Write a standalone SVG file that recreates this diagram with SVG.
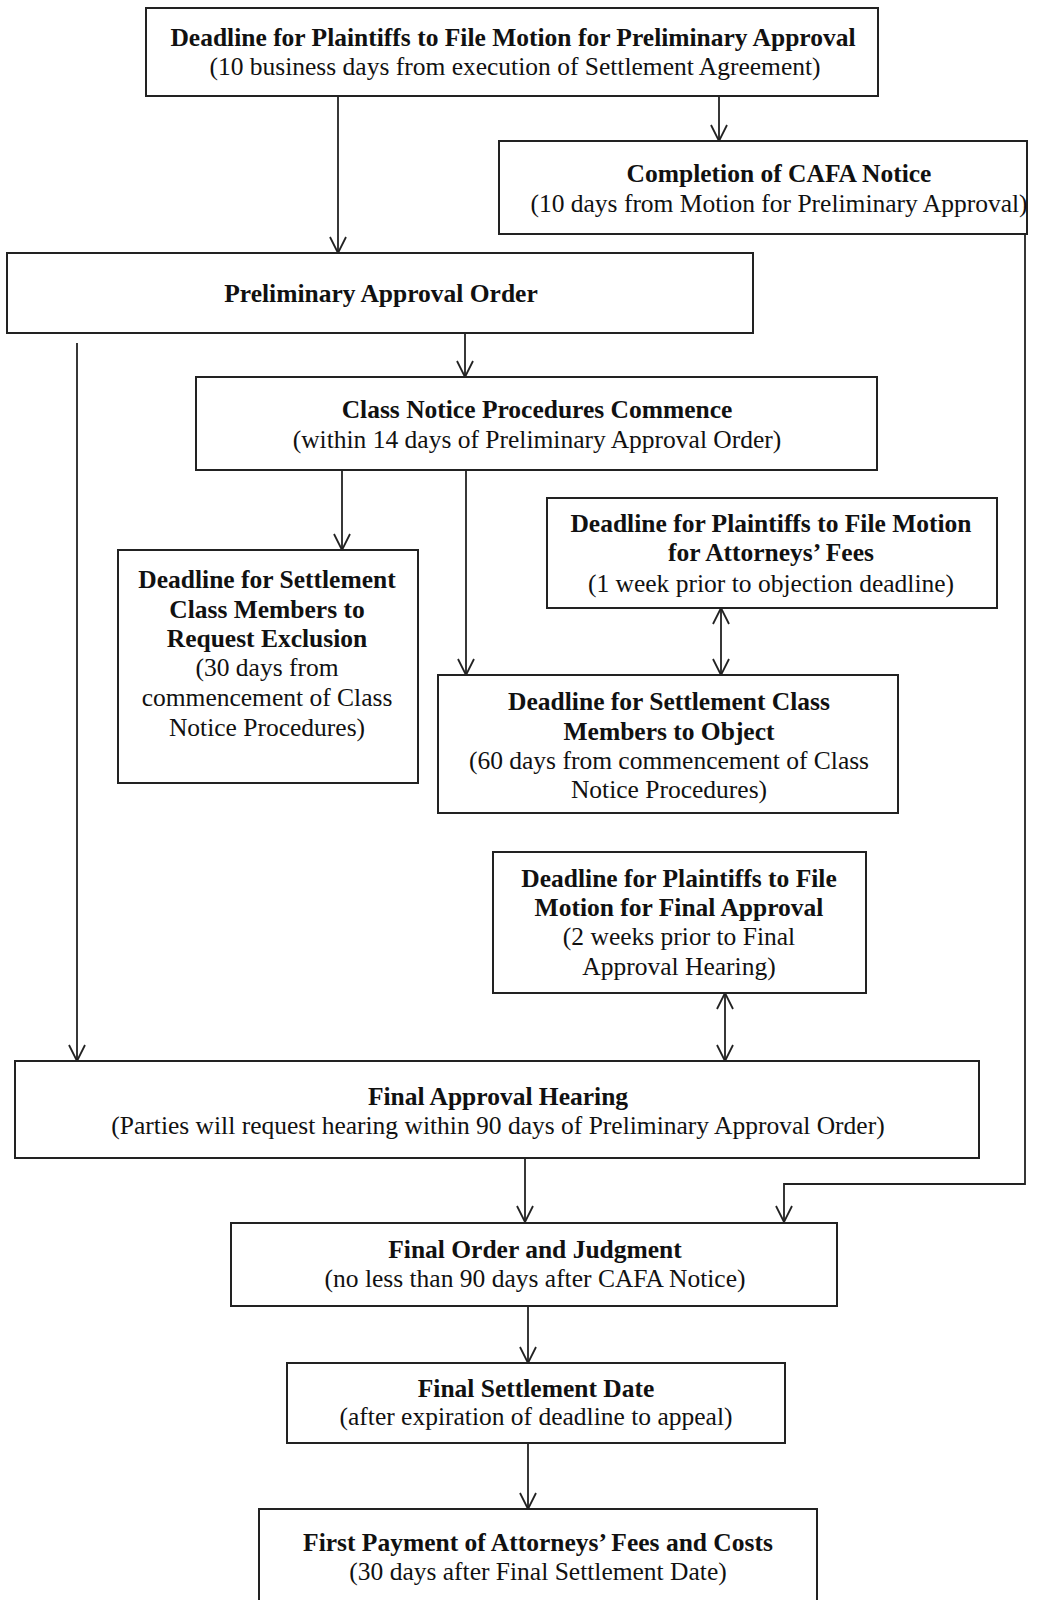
<svg xmlns="http://www.w3.org/2000/svg" width="1048" height="1600" viewBox="0 0 1048 1600">
<defs>
<style>
.box{fill:#fff;stroke:#222;stroke-width:2}
.t{font-family:"Liberation Serif","Times New Roman",serif;font-size:25.5px;fill:#111;text-anchor:middle}
.b{font-weight:bold}
.c{fill:none;stroke:#222;stroke-width:1.8}
</style>
<marker id="ah" viewBox="-18 -10 20 20" markerWidth="20" markerHeight="20" refX="0" refY="0" orient="auto-start-reverse" markerUnits="userSpaceOnUse">
<path d="M-16,-8 L0,0 L-16,8" fill="none" stroke="#222" stroke-width="1.8"/>
</marker>
</defs>
<rect width="1048" height="1600" fill="#fff"/>
<g id="connectors">
<path class="c" d="M338,96 V253" marker-end="url(#ah)"/>
<path class="c" d="M719,96 V141" marker-end="url(#ah)"/>
<path class="c" d="M1025,234 V1184 H784 V1222" marker-end="url(#ah)"/>
<path class="c" d="M77,343 V1061" marker-end="url(#ah)"/>
<path class="c" d="M465,333 V377" marker-end="url(#ah)"/>
<path class="c" d="M342,470 V550" marker-end="url(#ah)"/>
<path class="c" d="M466,470 V675" marker-end="url(#ah)"/>
<path class="c" d="M721,608 V675" marker-start="url(#ah)" marker-end="url(#ah)"/>
<path class="c" d="M725,993 V1061" marker-start="url(#ah)" marker-end="url(#ah)"/>
<path class="c" d="M525,1158 V1222" marker-end="url(#ah)"/>
<path class="c" d="M528,1306 V1363" marker-end="url(#ah)"/>
<path class="c" d="M528,1443 V1509" marker-end="url(#ah)"/>
</g>
<g id="n1"><rect class="box" x="146" y="8" width="732" height="88"/>
<text class="t b" x="513" y="46">Deadline for Plaintiffs to File Motion for Preliminary Approval</text>
<text class="t" x="515" y="75">(10 business days from execution of Settlement Agreement)</text></g>
<g id="n2"><rect class="box" x="499" y="141" width="528" height="93"/>
<text class="t b" x="779" y="182">Completion of CAFA Notice</text>
<text class="t" x="779" y="212">(10 days from Motion for Preliminary Approval)</text></g>
<g id="n3"><rect class="box" x="7" y="253" width="746" height="80"/>
<text class="t b" x="381" y="302">Preliminary Approval Order</text></g>
<g id="n4"><rect class="box" x="196" y="377" width="681" height="93"/>
<text class="t b" x="537" y="418">Class Notice Procedures Commence</text>
<text class="t" x="537" y="448">(within 14 days of Preliminary Approval Order)</text></g>
<g id="n5"><rect class="box" x="118" y="550" width="300" height="233"/>
<text class="t b" x="267" y="588">Deadline for Settlement</text>
<text class="t b" x="267" y="618">Class Members to</text>
<text class="t b" x="267" y="647">Request Exclusion</text>
<text class="t" x="267" y="676">(30 days from</text>
<text class="t" x="267" y="706">commencement of Class</text>
<text class="t" x="267" y="736">Notice Procedures)</text></g>
<g id="n6"><rect class="box" x="547" y="498" width="450" height="110"/>
<text class="t b" x="771" y="532">Deadline for Plaintiffs to File Motion</text>
<text class="t b" x="771" y="561">for Attorneys’ Fees</text>
<text class="t" x="771" y="592">(1 week prior to objection deadline)</text></g>
<g id="n7"><rect class="box" x="438" y="675" width="460" height="138"/>
<text class="t b" x="669" y="710">Deadline for Settlement Class</text>
<text class="t b" x="669" y="740">Members to Object</text>
<text class="t" x="669" y="769">(60 days from commencement of Class</text>
<text class="t" x="669" y="798">Notice Procedures)</text></g>
<g id="n8"><rect class="box" x="493" y="852" width="373" height="141"/>
<text class="t b" x="679" y="887">Deadline for Plaintiffs to File</text>
<text class="t b" x="679" y="916">Motion for Final Approval</text>
<text class="t" x="679" y="945">(2 weeks prior to Final</text>
<text class="t" x="679" y="975">Approval Hearing)</text></g>
<g id="n9"><rect class="box" x="15" y="1061" width="964" height="97"/>
<text class="t b" x="498" y="1105">Final Approval Hearing</text>
<text class="t" x="498" y="1134">(Parties will request hearing within 90 days of Preliminary Approval Order)</text></g>
<g id="n10"><rect class="box" x="231" y="1223" width="606" height="83"/>
<text class="t b" x="535" y="1258">Final Order and Judgment</text>
<text class="t" x="535" y="1287">(no less than 90 days after CAFA Notice)</text></g>
<g id="n11"><rect class="box" x="287" y="1363" width="498" height="80"/>
<text class="t b" x="536" y="1397">Final Settlement Date</text>
<text class="t" x="536" y="1425">(after expiration of deadline to appeal)</text></g>
<g id="n12"><rect class="box" x="259" y="1509" width="558" height="110"/>
<text class="t b" x="538" y="1551">First Payment of Attorneys’ Fees and Costs</text>
<text class="t" x="538" y="1580">(30 days after Final Settlement Date)</text></g>
</svg>
